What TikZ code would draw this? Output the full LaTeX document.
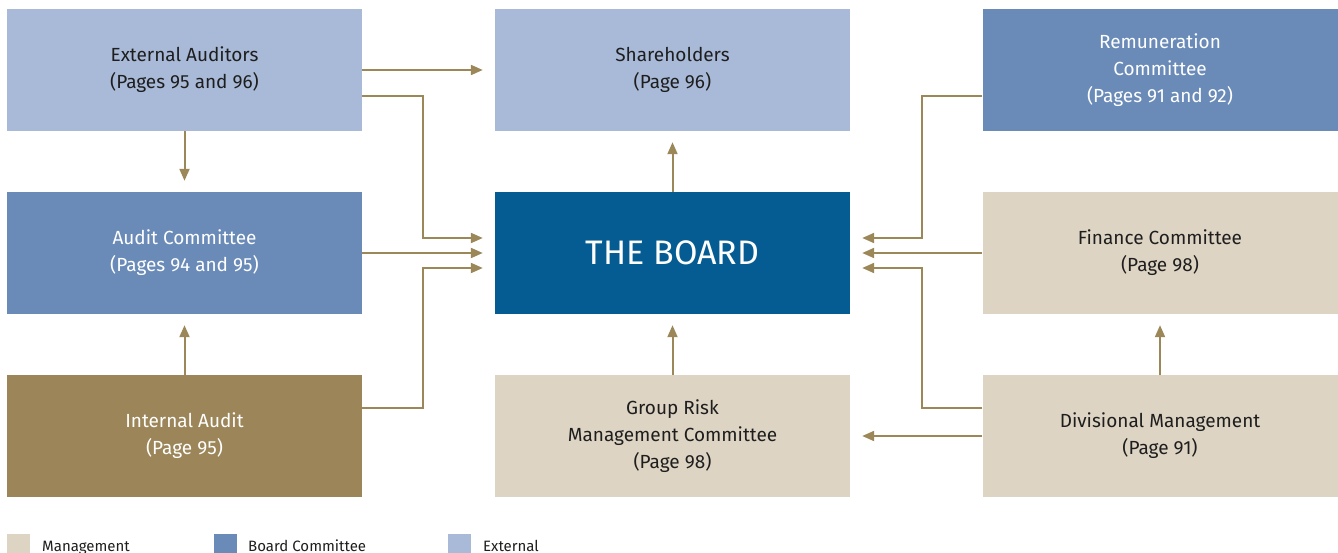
\documentclass[tikz,border=0pt]{standalone}
\usepackage{fontspec}
\setmainfont{Fira Sans}
\usetikzlibrary{arrows.meta, positioning, calc}

\definecolor{extblue}{HTML}{A9BAD8}
\definecolor{combblue}{HTML}{6A8BB8}
\definecolor{boardblue}{HTML}{045C93}
\definecolor{mgmtbeige}{HTML}{DDD4C3}
\definecolor{auditbrown}{HTML}{9C8659}
\definecolor{linkgold}{HTML}{9C8759}
\definecolor{darktext}{HTML}{1E1E1E}

\begin{document}
\begin{tikzpicture}[x=1pt, y=-1pt,
  box/.style={rectangle, minimum width=355pt, minimum height=122pt, inner sep=0pt,
    align=center, text=darktext, font=\fontsize{19}{27}\selectfont},
  link/.style={draw=linkgold, line width=2pt, -{Triangle[length=12pt,width=10pt]}, shorten >=12pt},
  keybox/.style={rectangle, minimum size=23pt, inner sep=0pt},
  keytext/.style={anchor=base west, inner sep=0pt, text=darktext, font=\fontsize{15}{17}\selectfont}]
\useasboundingbox (0,0) rectangle (1338,553);

% Top row
\node[box, fill=extblue] (ext) at (184.5,70) {External Auditors\\(Pages 95 and 96)};
\node[box, fill=extblue] (share) at (672.5,70) {Shareholders\\(Page 96)};
\node[box, fill=combblue, text=white] (remun) at (1160,70) {Remuneration\\Committee\\(Pages 91 and 92)};

% Middle row
\node[box, fill=combblue, text=white] (auditcom) at (184.5,253) {Audit Committee\\(Pages 94 and 95)};
\node[box, fill=boardblue, text=white, font=\fontsize{34}{40}\selectfont] (board) at (672.5,253) {THE BOARD};
\node[box, fill=mgmtbeige] (finance) at (1160,253) {Finance Committee\\(Page 98)};

% Bottom row
\node[box, fill=auditbrown, text=white] (intaudit) at (184.5,436) {Internal Audit\\(Page 95)};
\node[box, fill=mgmtbeige] (risk) at (672.5,436) {Group Risk\\Management Committee\\(Page 98)};
\node[box, fill=mgmtbeige] (divmgmt) at (1160,436) {Divisional Management\\(Page 91)};

% Links
\draw[link] (ext) -- (share);
\draw[link] ($(ext.east)+(0,26)$) -| ($(board.west)+(-72,-15)$) -- ($(board.west)+(0,-15)$);
\draw[link] (auditcom) -- (board);
\draw[link] ($(intaudit.east)+(0,-28)$) -| ($(board.west)+(-72,15)$) -- ($(board.west)+(0,15)$);
\draw[link, shorten >=11pt] (ext) -- (auditcom);
\draw[link, shorten >=11pt] (intaudit) -- (auditcom);
\draw[link, shorten >=11pt] (board) -- (share);
\draw[link, shorten >=11pt] (risk) -- (board);
\draw[link] ($(remun.west)+(0,26)$) -| ($(board.east)+(72,-15)$) -- ($(board.east)+(0,-15)$);
\draw[link] (finance) -- (board);
\draw[link] ($(divmgmt.west)+(0,-28)$) -| ($(board.east)+(72,15)$) -- ($(board.east)+(0,15)$);
\draw[link] (divmgmt) -- (risk);
\draw[link, shorten >=11pt] (divmgmt) -- (finance);

% Key
\node[keybox, fill=mgmtbeige] (keymgmt) at (18.5,545.5) {};
\node[keytext] (keymgmttext) at (42,551) {Management};
\node[keybox, fill=combblue] (keycomb) at (225.5,545.5) {};
\node[keytext] (keycombtext) at (248,551) {Board Committee};
\node[keybox, fill=extblue] (keyext) at (459.5,545.5) {};
\node[keytext] (keyexttext) at (483,551) {External};
\end{tikzpicture}
\end{document}
